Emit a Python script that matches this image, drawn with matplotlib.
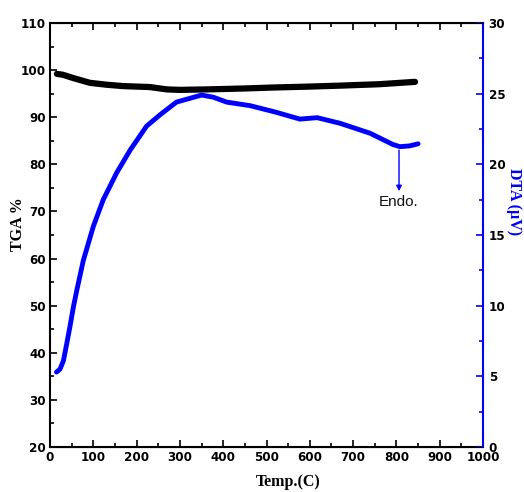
import matplotlib.pyplot as plt
from matplotlib.ticker import MultipleLocator

# TGA curve (left axis)
tga_temp = [16, 30, 54, 92, 130, 169, 230, 270, 300, 362, 450, 515, 600, 670, 760, 843]
tga_val = [99.2, 99.0, 98.3, 97.3, 96.9, 96.6, 96.4, 95.9, 95.8, 95.9, 96.1, 96.3, 96.5, 96.7, 97.0, 97.5]

# DTA curve (right axis)
dta_temp = [15, 23, 31, 38, 46, 54, 62, 77, 100, 123, 154, 185, 223, 254, 292, 350, 377, 408, 462,
            520, 577, 617, 670, 739, 792, 808, 830, 850]
dta_val = [5.3, 5.5, 6.1, 7.2, 8.5, 9.9, 11.1, 13.2, 15.6, 17.5, 19.4, 21.0, 22.7, 23.5, 24.4, 24.9,
           24.75, 24.4, 24.15, 23.7, 23.2, 23.3, 22.9, 22.2, 21.4, 21.25, 21.3, 21.45]

tick_family = ['DejaVu Sans']
lab_family = ['Liberation Serif', 'DejaVu Serif']

fig = plt.figure(figsize=(5.24, 4.92), dpi=100)
ax = fig.add_axes([0.0954, 0.0915, 0.8264, 0.8618])
ax2 = ax.twinx()

ax.plot(tga_temp, tga_val, color='black', lw=4.5, solid_capstyle='round')
ax2.plot(dta_temp, dta_val, color='#0000ff', lw=3.5, solid_capstyle='round')

ax.set_xlim(0, 1000)
ax.set_ylim(20, 110)
ax2.set_ylim(0, 30)

ax.xaxis.set_major_locator(MultipleLocator(100))
ax.xaxis.set_minor_locator(MultipleLocator(50))
ax.yaxis.set_major_locator(MultipleLocator(10))
ax.yaxis.set_minor_locator(MultipleLocator(5))
ax2.yaxis.set_major_locator(MultipleLocator(5))
ax2.yaxis.set_minor_locator(MultipleLocator(2.5))

ax.tick_params(which='both', direction='in', top=True, width=1.2)
ax.tick_params(which='major', length=5, pad=3)
ax.tick_params(which='minor', length=3)
ax2.tick_params(which='both', direction='in', color='#0000ff', width=1.2)
ax2.tick_params(which='major', length=5, pad=4)
ax2.tick_params(which='minor', length=3)

for lab in ax.get_xticklabels() + ax.get_yticklabels() + ax2.get_yticklabels():
    lab.set_fontfamily(tick_family)
    lab.set_fontstretch('condensed')
    lab.set_fontweight('bold')
    lab.set_fontsize(9.5)

for s in ['left', 'bottom', 'top']:
    ax.spines[s].set_linewidth(1.5)
ax2.spines['right'].set_color('#0000ff')
ax2.spines['right'].set_linewidth(1.5)
ax2.spines['left'].set_visible(False)
ax.spines['right'].set_visible(False)

ax.set_xlabel('Temp.(C)', family=lab_family, weight='bold', fontsize=11.5, va='center')
ax.xaxis.set_label_coords(0.55, -0.083)
ax.set_ylabel('TGA %', family=lab_family, weight='bold', fontsize=11.5, va='center')
ax.yaxis.set_label_coords(-0.075, 0.526)
ax2.set_ylabel('DTA (µV)', family=lab_family, weight='bold', fontsize=11.5,
               color='#0000ff', rotation=270, va='center')
ax2.yaxis.set_label_coords(1.072, 0.578)

ax2.annotate('', xy=(806, 17.9), xytext=(806, 21.2),
             arrowprops=dict(arrowstyle='-|>', color='#0000ff', lw=1, mutation_scale=8))
ax2.text(806, 17.3, 'Endo.', ha='center', va='center', fontsize=11, color='#111111',
         family=['Liberation Sans', 'DejaVu Sans'])

fig.savefig('out.png', dpi=100)
